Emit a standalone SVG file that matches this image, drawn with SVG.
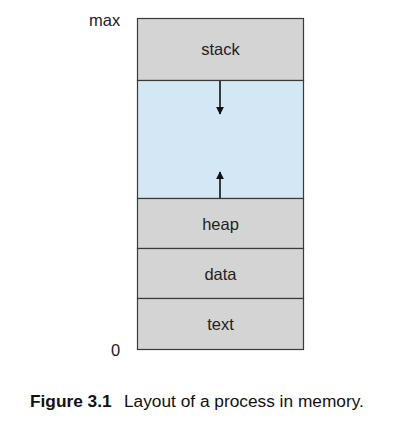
<svg xmlns="http://www.w3.org/2000/svg" width="419" height="439" viewBox="0 0 419 439">
<style>
.seg{fill:#d4d4d4;stroke:#3a3a3a;stroke-width:1.2}
.free{fill:#d3e8f4;stroke:#3a3a3a;stroke-width:1.2}
.lbl{font-family:"Liberation Sans",Arial,sans-serif;font-size:16.5px;fill:#222;text-anchor:middle}
.side{font-family:"Liberation Sans",Arial,sans-serif;font-size:16.5px;fill:#222}
.cap{font-family:"Liberation Sans",Arial,sans-serif;font-size:17.3px;fill:#111}
.arr{stroke:#111;stroke-width:1.6;fill:none;marker-end:url(#ah)}
</style>
<defs>
<marker id="ah" viewBox="0 0 10 10" refX="9" refY="5" markerWidth="5" markerHeight="5" orient="auto" markerUnits="strokeWidth">
<path d="M0,0 L10,5 L0,10 z" fill="#111"/>
</marker>
</defs>
<rect width="419" height="439" fill="#ffffff"/>
<text class="side" x="89" y="26">max</text>
<text class="side" x="111" y="356">0</text>
<g id="stack"><rect class="seg" x="137.5" y="18.5" width="166" height="62"/><text class="lbl" x="220.5" y="55">stack</text></g>
<g id="free"><rect class="free" x="137.5" y="80.5" width="166" height="118"/></g>
<g id="heap"><rect class="seg" x="137.5" y="198.5" width="166" height="50"/><text class="lbl" x="220.5" y="230">heap</text></g>
<g id="data"><rect class="seg" x="137.5" y="248.5" width="166" height="50"/><text class="lbl" x="220.5" y="280">data</text></g>
<g id="text"><rect class="seg" x="137.5" y="298.5" width="166" height="51"/><text class="lbl" x="220.5" y="330">text</text></g>
<g id="connectors">
<line class="arr" x1="220" y1="81" x2="220" y2="114"/>
<line class="arr" x1="220" y1="198" x2="220" y2="172"/>
</g>
<text class="cap" x="30" y="407"><tspan font-weight="bold">Figure 3.1</tspan><tspan x="124">Layout of a process in memory.</tspan></text>
</svg>
